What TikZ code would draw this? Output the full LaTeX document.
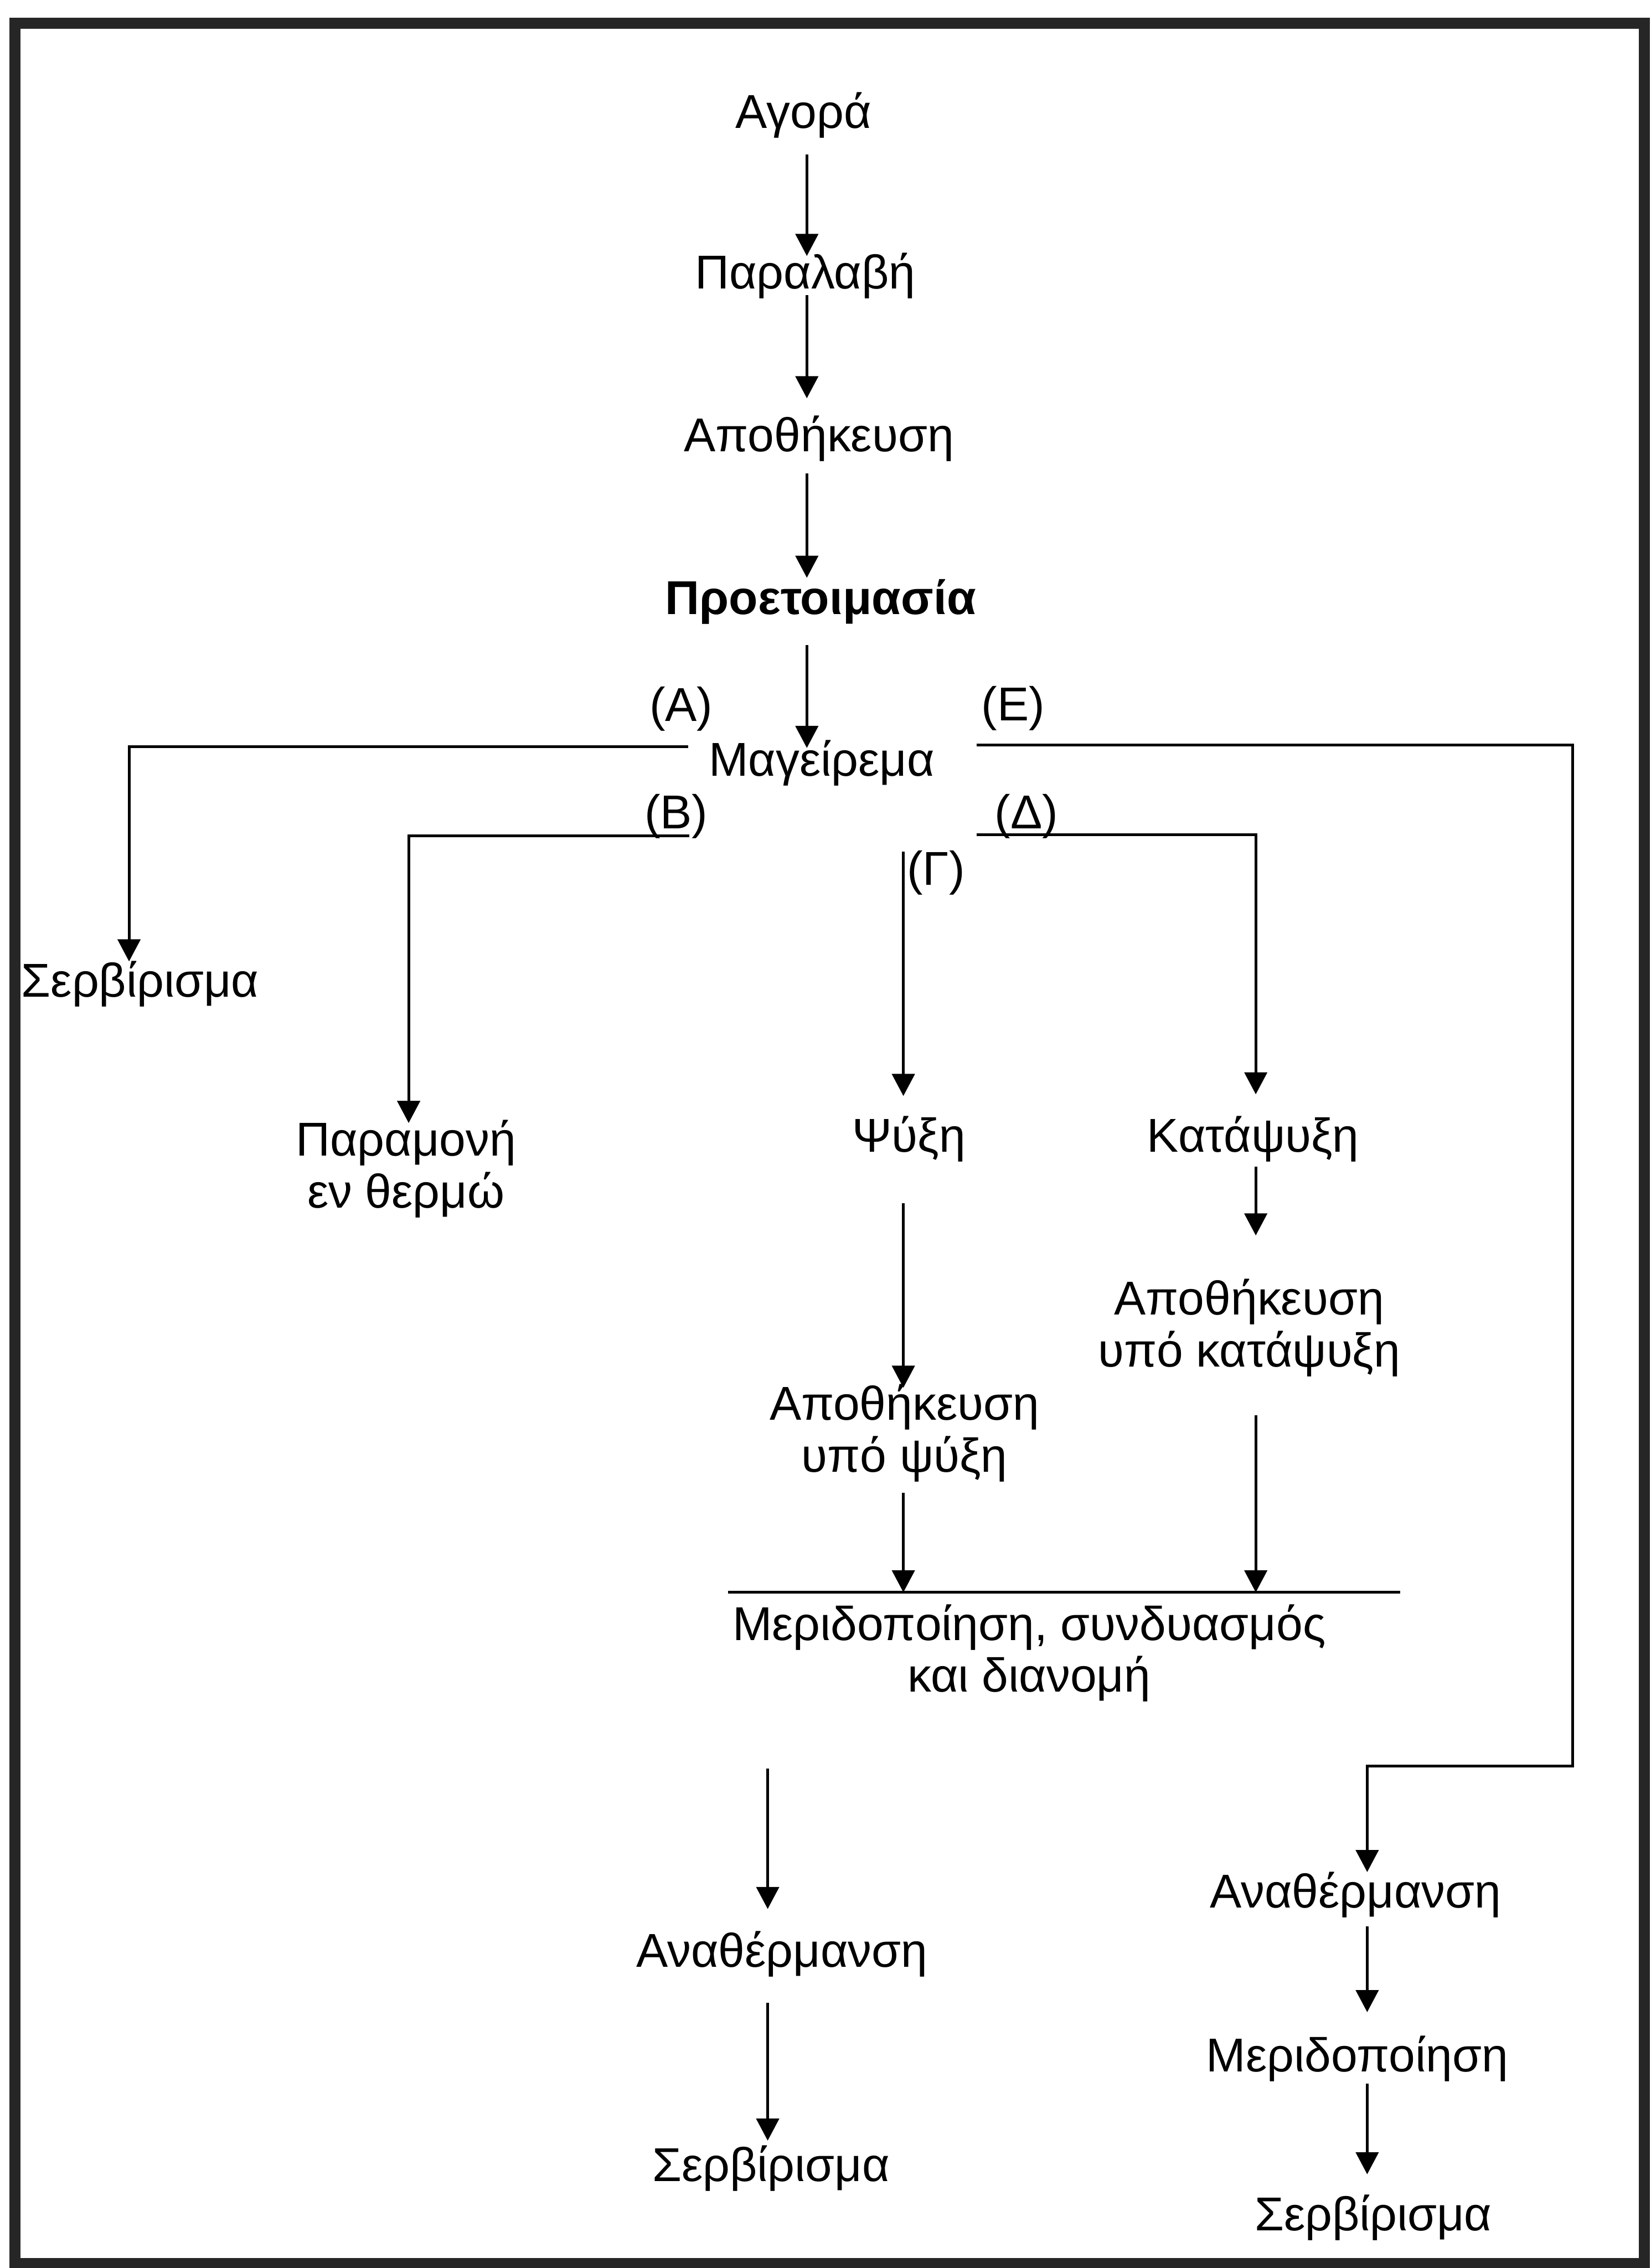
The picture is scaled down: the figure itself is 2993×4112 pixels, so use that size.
\documentclass[tikz,border=0pt]{standalone}
\usepackage{fontspec}
\setmainfont{Liberation Sans}
\usetikzlibrary{arrows.meta}
\begin{document}
\begin{tikzpicture}[x=0.01cm, y=-0.01cm,
  every node/.style={inner sep=0pt, outer sep=0pt,
    font=\fontsize{24.5pt}{26.7pt}\selectfont},
  lbl/.style={anchor=base},
  lbltwo/.style={anchor=north, align=center},
  link/.style={line width=1.4pt, line cap=butt},
  arr/.style={link, -{Triangle[length=0.4cm, width=0.41cm]}},
  frame/.style={line width=0.2cm, draw=black!85},
]
% page and frame
\useasboundingbox (0,0) rectangle (2993,4112);
\draw[frame] (27,42) rectangle (2982,4104);

% column guides for the vertical connectors
\coordinate (colM) at (1463,0);
\coordinate (colA) at (234,0);
\coordinate (colB) at (741,0);
\coordinate (colG) at (1638,0);
\coordinate (colD) at (2277,0);
\coordinate (colL) at (1392,0);
\coordinate (colR) at (2479,0);

% main sequence
\node[lbl] (agora)  at (1457,232)  {Αγορά};
\node[lbl] (recv)   at (1460,524)  {Παραλαβή};
\node[lbl] (store)  at (1485,819)  {Αποθήκευση};
\node[lbl, font=\fontsize{24.5pt}{26.7pt}\selectfont\bfseries] (prep) at (1488,1114) {Προετοιμασία};
\node[lbl] (cook)   at (1490,1407) {Μαγείρεμα};

% branch letters
\node[lbl] (labA) at (1235,1308) {(Α)};
\node[lbl] (labE) at (1837,1307) {(Ε)};
\node[lbl] (labB) at (1226,1502) {(Β)};
\node[lbl] (labD) at (1861,1502) {(Δ)};
\node[lbl] (labG) at (1697,1605) {(Γ)};

% branch targets
\node[lbl]    (serve1) at (254,1808)  {Σερβίρισμα};
\node[lbltwo] (hold)   at (736,2031)  {Παραμονή\\εν θερμώ};
\node[lbl]    (chill)  at (1648,2089) {Ψύξη};
\node[lbl]    (freeze) at (2272,2089) {Κατάψυξη};
\node[lbltwo] (storeF) at (2265,2319) {Αποθήκευση\\υπό κατάψυξη};
\node[lbltwo] (storeC) at (1640,2510) {Αποθήκευση\\υπό ψύξη};
\node[lbltwo] (portion) at (1866,2909) {Μεριδοποίηση, συνδυασμός\\και διανομή};
\node[lbl]    (reheatL) at (1418,3566) {Αναθέρμανση};
\node[lbl]    (serve2)  at (1398,3955) {Σερβίρισμα};
\node[lbl]    (reheatR) at (2458,3459) {Αναθέρμανση};
\node[lbl]    (portR)   at (2461,3756) {Μεριδοποίηση};
\node[lbl]    (serve3)  at (2490,4044) {Σερβίρισμα};

% helper points
\coordinate (gtop)  at (1638,1544);
\coordinate (ebend) at (2852,3202);
\coordinate (barL)  at (1320,2887);
\coordinate (barR)  at (2539,2887);

% main sequence connectors
\draw[arr, shorten <=0.30cm, shorten >=-0.05cm] (colM |- agora.south) -- (colM |- recv.north);
\draw[arr, shorten <=-0.07cm, shorten >=0.32cm] (colM |- recv.south) -- (colM |- store.north);
\draw[arr, shorten <=0.21cm, shorten >=0.03cm] (colM |- store.south) -- (colM |- prep.north);
\draw[arr, shorten <=0.38cm, shorten >=-0.14cm] (colM |- prep.south) -- (colM |- cook.north);

% branches from cooking
\draw[arr] ([xshift=-0.38cm, yshift=-0.12cm]cook.north west) -| (colA |- serve1.north);
\draw[arr, shorten >=-0.05cm] ([xshift=-0.36cm, yshift=-0.9cm]cook.south west) -| (colB |- hold.north);
\draw[arr, shorten >=0.40cm] ([xshift=0.76cm, yshift=-0.88cm]cook.south east) -| (colD |- freeze.north);
\draw[arr] ([xshift=0.76cm, yshift=-0.09cm]cook.north east) -| (ebend) -| (colR |- reheatR.north);
\draw[arr, shorten >=0.37cm] (gtop) -- (gtop |- chill.north);

% chilled and frozen lines
\draw[arr, shorten <=0.75cm, shorten >=-0.06cm] (colG |- chill.south) -- (colG |- storeC.north);
\draw[arr, shorten <=0.08cm, shorten >=0.79cm] (colD |- freeze.south) -- (colD |- storeF.north);
\draw[arr, shorten <=0.20cm] (colG |- storeC.south) -- (colG |- barL);
\draw[arr, shorten <=0.70cm] (colD |- storeF.south) -- (colD |- barL);
\draw[link] (barL) -- (barR);

% reheating and service
\draw[arr, shorten <=1.21cm, shorten >=0.40cm] (colL |- portion.south) -- (colL |- reheatL.north);
\draw[arr, shorten <=0.47cm, shorten >=0.09cm] (colL |- reheatL.south) -- (colL |- serve2.north);
\draw[arr, shorten <=0.16cm, shorten >=0.43cm] (colR |- reheatR.south) -- (colR |- portR.north);
\draw[arr, shorten <=0.04cm, shorten >=0.37cm] (colR |- portR.south) -- (colR |- serve3.north);
\end{tikzpicture}
\end{document}
